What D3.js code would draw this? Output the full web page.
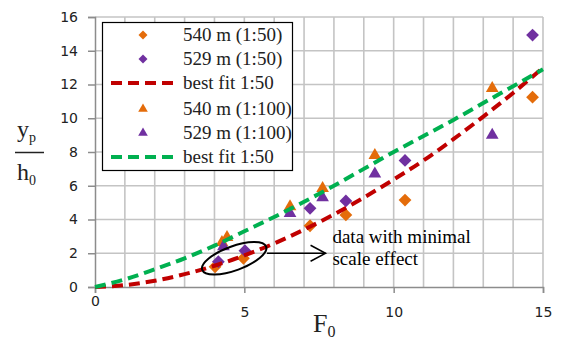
<!DOCTYPE html>
<html>
<head>
<meta charset="utf-8">
<script src="https://cdn.jsdelivr.net/npm/d3@7"></script>
<style>
  body { margin: 0; background: #fff; }
  svg { display: block; }
</style>
</head>
<body>
<div id="chart"></div>
<script>
/* values */
const xTicks = [0, 5, 10, 15];
const yTicks = [0, 2, 4, 6, 8, 10, 12, 14, 16];

// 540 m (1:50) diamonds
const x540a = [4.02, 4.97, 7.2, 8.4, 10.38, 14.65];
const y540a = [1.2, 1.7, 3.63, 4.27, 5.15, 11.25];
// 529 m (1:50) diamonds
const x529a = [4.13, 5.02, 7.2, 8.4, 10.38, 14.65];
const y529a = [1.5, 2.15, 4.66, 5.1, 7.5, 14.93];
// 540 m (1:100) triangles
const x540b = [4.25, 4.42, 6.53, 7.62, 9.37, 13.3];
const y540b = [2.65, 2.95, 4.76, 5.85, 7.8, 11.77];
// 529 m (1:100) triangles
const x529b = [4.3, 6.53, 7.62, 9.37, 13.3];
const y529b = [2.4, 4.37, 5.3, 6.7, 9.0];

// best fit curves
const fitX = [0, 1, 2, 3, 4, 5, 6, 7, 8, 9, 10, 11, 12, 13, 14, 15];
const fitRed = [0, 0.11, 0.37, 0.76, 1.26, 1.87, 2.58, 3.4, 4.3, 5.3, 6.37, 7.5, 8.76, 10.1, 11.5, 13.0];
const fitGreen = [0, 0.45, 1.05, 1.7, 2.45, 3.3, 4.15, 5.05, 6.0, 7.0, 8.0, 8.95, 9.9, 10.9, 11.9, 12.9];

const legendLabels = ["540 m (1:50)", "529 m (1:50)", "best fit 1:50", "540 m (1:100)", "529 m (1:100)", "best fit 1:50"];

const orange = "#e46c0a", purple = "#7030a0", red = "#c00000", green = "#00b050";
const serif = "'Liberation Serif', 'DejaVu Serif', serif";

let width = 561, height = 345;
let margin = {top: 17, right: 18, bottom: 58, left: 95};

let x = d3.scaleLinear().domain([0, 15]).range([margin.left, width - margin.right]);
let y = d3.scaleLinear().domain([0, 16]).range([height - margin.bottom, margin.top]);

let svg = d3.select("#chart").append("svg")
    .attr("width", width)
    .attr("height", height);

/* grid */
svg.append("g")
  .selectAll("line")
  .data(d3.range(1, 16))
  .enter().append("line")
    .attr("x1", d => x(d)).attr("x2", d => x(d))
    .attr("y1", y(0)).attr("y2", y(16))
    .attr("stroke", "#c4c4c4").attr("stroke-width", 1.6);

svg.append("g")
  .selectAll("line")
  .data(yTicks.slice(1))
  .enter().append("line")
    .attr("x1", x(0)).attr("x2", x(15))
    .attr("y1", d => y(d)).attr("y2", d => y(d))
    .attr("stroke", "#c4c4c4").attr("stroke-width", 1.6);

/* axes */
let xAxis = svg.append("g")
    .attr("transform", "translate(0," + y(0) + ")")
    .call(d3.axisBottom(x).tickValues(xTicks).tickSize(6).tickPadding(14));
let yAxis = svg.append("g")
    .attr("transform", "translate(" + x(0) + ",0)")
    .call(d3.axisLeft(y).tickValues(yTicks).tickSize(7).tickPadding(10));

[xAxis, yAxis].forEach(a => {
  a.select(".domain").attr("stroke", "#8c8c8c").attr("stroke-width", 1.5);
  a.selectAll(".tick line").attr("stroke", "#8c8c8c").attr("stroke-width", 1.5);
  a.selectAll("text")
    .attr("font-family", "'DejaVu Sans', sans-serif")
    .attr("font-size", 14)
    .attr("fill", "#222");
});
// the 0 label sits higher in the original
xAxis.selectAll(".tick text").filter(d => d === 0).attr("y", 9);

/* series */
let line = d3.line()
    .x((d, i) => x(fitX[i]))
    .y(d => y(d))
    .curve(d3.curveMonotoneX);

const diamond = d3.symbol().type(d3.symbolSquare).size(82);
const triangle = d3.symbol().type(d3.symbolTriangle).size(70);

const drawPoints = (xs, ys, sym, color, rot) => {
  svg.append("g")
    .selectAll("path")
    .data(xs)
    .enter().append("path")
      .attr("d", sym)
      .attr("transform", (d, i) => "translate(" + x(d) + "," + y(ys[i]) + ") rotate(" + rot + ")")
      .attr("fill", color);
};

const drawFit = (vals, color) => {
  svg.append("path")
    .datum(vals)
    .attr("d", line)
    .attr("fill", "none")
    .attr("stroke", color)
    .attr("stroke-width", 4)
    .attr("stroke-dasharray", "11,6");
};

drawPoints(x540a, y540a, diamond, orange, 45);
drawPoints(x529a, y529a, diamond, purple, 45);
drawFit(fitRed, red);
drawPoints(x540b, y540b, triangle, orange, 0);
drawPoints(x529b, y529b, triangle, purple, 0);
drawFit(fitGreen, green);

/* annotation */
svg.append("ellipse")
    .attr("transform", "translate(" + x(4.66) + "," + y(1.7) + ") rotate(-20)")
    .attr("rx", 34).attr("ry", 12)
    .attr("fill", "none").attr("stroke", "#000").attr("stroke-width", 2);

let ay = y(2.0);
svg.append("line")
    .attr("x1", x(5.76)).attr("x2", x(7.72))
    .attr("y1", ay).attr("y2", ay)
    .attr("stroke", "#000").attr("stroke-width", 1.5);
svg.append("path")
    .attr("d", "M" + (x(7.72) - 15) + "," + (ay - 8) + "L" + x(7.72) + "," + ay + "L" + (x(7.72) - 15) + "," + (ay + 8))
    .attr("fill", "none").attr("stroke", "#000").attr("stroke-width", 1.5);

svg.append("text")
    .attr("x", x(7.95)).attr("y", y(2.62))
    .attr("font-family", serif).attr("font-size", 19)
    .text("data with minimal");
svg.append("text")
    .attr("x", x(7.95)).attr("y", y(1.3))
    .attr("font-family", serif).attr("font-size", 19)
    .text("scale effect");

/* legend */
let legend = svg.append("g");
legend.append("rect")
    .attr("x", 102.5).attr("y", 22.5)
    .attr("width", 190).attr("height", 148)
    .attr("fill", "#fff").attr("stroke", "#000").attr("stroke-width", 1.2);

const legendKinds = [
  {t: "d", c: orange}, {t: "d", c: purple}, {t: "l", c: red},
  {t: "t", c: orange}, {t: "t", c: purple}, {t: "l", c: green}
];
const rowY = [35, 59, 83, 109, 133, 157];

legendKinds.forEach((k, i) => {
  let g = legend.append("g").attr("transform", "translate(0," + rowY[i] + ")");
  if (k.t === "l") {
    g.append("line")
      .attr("x1", 111).attr("x2", 174).attr("y1", 0).attr("y2", 0)
      .attr("stroke", k.c).attr("stroke-width", 4).attr("stroke-dasharray", "11,6");
  } else {
    g.append("path")
      .attr("d", d3.symbol().type(k.t === "d" ? d3.symbolSquare : d3.symbolTriangle).size(40))
      .attr("transform", "translate(143,0) rotate(" + (k.t === "d" ? 45 : 0) + ")")
      .attr("fill", k.c);
  }
  g.append("text")
    .attr("x", 183).attr("y", 6)
    .attr("font-family", serif).attr("font-size", 19)
    .attr("fill", "#222")
    .text(legendLabels[i]);
});

/* axis titles */
let xt = svg.append("text")
    .attr("x", 313).attr("y", 332)
    .attr("font-family", serif).attr("font-size", 26).attr("fill", "#222");
xt.append("tspan").text("F");
xt.append("tspan").attr("font-size", 16).attr("dy", 5).text("0");

let yt = svg.append("g").attr("font-family", serif).attr("fill", "#222");
let yp = yt.append("text").attr("x", 17).attr("y", 137).attr("font-size", 24);
yp.append("tspan").text("y");
yp.append("tspan").attr("font-size", 14).attr("dy", 5).text("p");
yt.append("line")
    .attr("x1", 15).attr("x2", 44).attr("y1", 152.5).attr("y2", 152.5)
    .attr("stroke", "#222").attr("stroke-width", 1.5);
let h0 = yt.append("text").attr("x", 17).attr("y", 180).attr("font-size", 24);
h0.append("tspan").text("h");
h0.append("tspan").attr("font-size", 14).attr("dy", 5).text("0");
</script>
</body>
</html>
